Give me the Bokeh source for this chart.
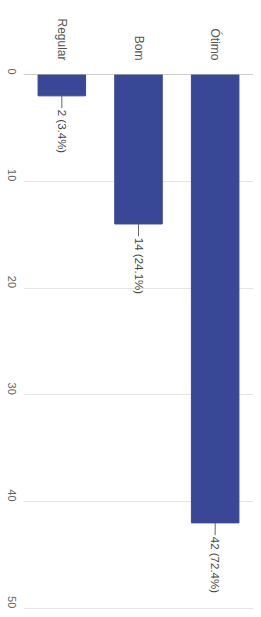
import math
import numpy as np
from bokeh.plotting import figure
from bokeh.models import FactorRange, Range1d, Span, ColumnDataSource, FixedTicker
from bokeh.core.properties import value
from bokeh.embed import file_html
from bokeh.resources import INLINE

categories = ["Regular", "Bom", "Ótimo"]
counts = [2, 14, 42]
percents = [3.4, 24.1, 72.4]
y_ticks = [0, 10, 20, 30, 40, 50]

labels = [f"{c} ({p}%)" for c, p in zip(counts, percents)]
cnt = np.array(counts, dtype=float)
src = ColumnDataSource(dict(cat=categories, cnt=cnt, lead_end=cnt + 1.15,
                            txt_y=cnt + 1.3, label=labels))

p = figure(x_range=FactorRange(factors=categories, range_padding=0),
           y_range=Range1d(start=50.3, end=0),
           frame_width=230, frame_height=537,
           min_border_left=22, min_border_right=0, min_border_top=74, min_border_bottom=4,
           output_backend="svg", toolbar_location=None, x_axis_location="above")
p.outline_line_color = None

p.vbar(x="cat", top="cnt", bottom=0, width=0.62, source=src,
       fill_color="#394896", line_color="#394896")
p.segment(x0="cat", y0="cnt", x1="cat", y1="lead_end", source=src,
          line_color="#666666", line_width=1)
p.text(x="cat", y="txt_y", text="label", source=src, angle=-math.pi / 2,
       text_align="left", text_baseline="middle", text_font_size="11.5px",
       text_color="#444444", text_font=value("Liberation Sans"))

p.add_layout(Span(location=0, dimension="width", line_color="#999999", line_width=1))

p.yaxis.ticker = FixedTicker(ticks=y_ticks)
p.yaxis.major_label_orientation = -math.pi / 2
p.yaxis.axis_line_color = None
p.yaxis.major_tick_line_color = None
p.yaxis.minor_tick_line_color = None
p.yaxis.major_label_standoff = 6
p.yaxis.major_label_text_font_size = "11px"
p.yaxis.major_label_text_color = "#666666"
p.yaxis.major_label_text_font = "Liberation Sans"

p.xaxis.major_label_orientation = -math.pi / 2
p.xaxis.axis_line_color = None
p.xaxis.major_tick_line_color = None
p.xaxis.major_label_standoff = 8
p.xaxis.major_label_text_font_size = "12px"
p.xaxis.major_label_text_color = "#555555"
p.xaxis.major_label_text_font = "Liberation Sans"

p.xgrid.grid_line_color = None
p.ygrid.grid_line_color = "#e4e4e4"

open("out.html", "w").write(file_html(p, INLINE))
